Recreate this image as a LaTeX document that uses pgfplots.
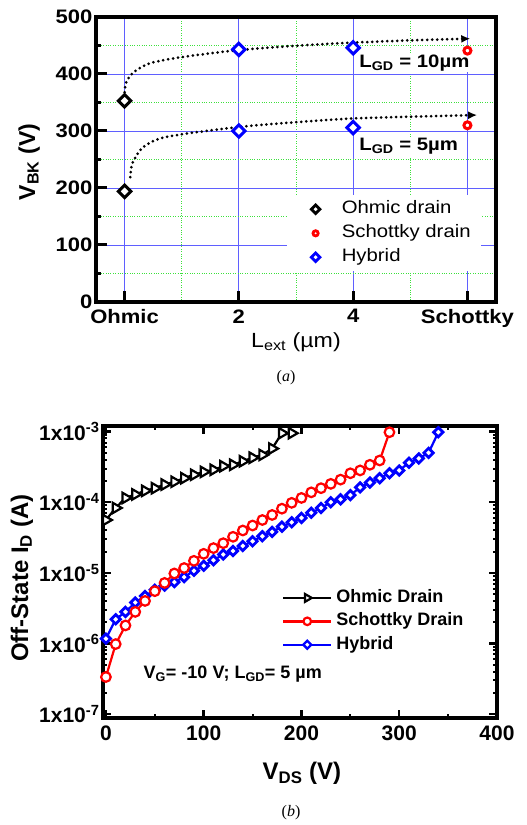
\documentclass[border=0pt]{standalone}
\usepackage{pgfplots}
\pgfplotsset{compat=1.18}
\usetikzlibrary{arrows.meta}
\usepackage{fontspec}
\setmainfont{Liberation Sans}
\newfontfamily\topfont{Liberation Sans}[FakeStretch=1.13]
\newfontfamily\capfont{Liberation Serif}
\definecolor{gridblue}{RGB}{95,95,255}
\definecolor{gridgreen}{RGB}{60,225,60}

\begin{document}
\begin{tikzpicture}
\useasboundingbox (0,0) rectangle (527pt,825pt);

% ---------- (a) breakdown voltage ----------
\begin{axis}[
  at={(96pt,523pt)}, anchor=south west,
  scale only axis, width=400pt, height=285pt,
  xmin=-0.5, xmax=6.5, ymin=0, ymax=500,
  xtick={0,2,4,6}, xticklabels={Ohmic,2,4,Schottky},
  minor xtick={1,3,5},
  ytick={0,100,...,500}, minor ytick={50,150,...,450},
  grid=both,
  major grid style={gridblue, line width=0.9pt},
  minor grid style={gridgreen, dotted, line width=0.9pt},
  axis line style={line width=3.5pt},
  tick align=inside, xtick pos=bottom, ytick pos=left,
  major tick length=11pt, minor tick length=5pt,
  major tick style={black, line width=3pt},
  minor tick style={black, line width=2.5pt},
  minor x tick style={draw=none},
  /pgf/number format/assume math mode=true,
  tick label style={font=\topfont\bfseries\fontsize{19.5}{21}\selectfont},
  xticklabel style={yshift=-4pt},
  xlabel={L\textsubscript{ext} (µm)},
  xlabel style={font=\topfont\fontsize{20.5}{22}\selectfont, at={(axis description cs:0.5,-0.161)}, anchor=base},
  ylabel={V\textsubscript{BK} (V)},
  ylabel style={font=\bfseries\fontsize{23}{25}\selectfont, at={(axis description cs:-0.1525,0.491)}, anchor=base, rotate=0},
  legend style={at={(0.478,0.375)}, anchor=north west, draw=none, fill=white,
    font=\topfont\fontsize{18}{20}\selectfont, column sep=10pt, inner xsep=8pt, inner ysep=2pt,
    nodes={inner ysep=3.5pt, text height=13pt, text depth=4pt}, row sep=0pt,
    cells={anchor=west}},
  legend cell align=left,
  legend image code/.code={\path (0pt,0pt) (34pt,0pt); \draw[#1] plot coordinates {(20pt,0pt)};},
]
% guide curves
\addplot[smooth, black, line width=3pt, line cap=round, dash pattern=on 0pt off 5pt,
  -{Latex[length=9pt,width=8pt]}, forget plot] coordinates {
  (0,368) (0.03,386) (0.16,403) (0.45,419) (1.03,430) (2,442) (3.08,450) (4,455) (5,459) (6.05,462)};
\addplot[smooth, black, line width=3pt, line cap=round, dash pattern=on 0pt off 5pt,
  -{Latex[length=9pt,width=8pt]}, forget plot] coordinates {
  (0.1,219) (0.14,244) (0.33,272) (0.75,290) (2,307) (3.08,316) (4,322) (5,325) (6.17,328)};
% data
\addplot[only marks, black, mark=square*, mark size=4.4pt,
  mark options={rotate=45, fill=white, line width=3pt, solid}, forget plot]
  coordinates {(0,353) (0,194)};
\addplot[only marks, red, mark=*, mark size=3.5pt,
  mark options={fill=white, line width=3pt, solid}, forget plot]
  coordinates {(6,441) (6,310)};
\addplot[only marks, blue, mark=square*, mark size=4.4pt,
  mark options={rotate=45, fill=white, line width=3pt, solid}, forget plot]
  coordinates {(2,443) (4,446) (2,300) (4,306)};
\addlegendimage{only marks, black, mark=square*, mark size=3pt, mark options={rotate=45, fill=white, line width=2.8pt}}
\addlegendentry{Ohmic drain}
\addlegendimage{only marks, red, mark=*, mark size=2.6pt, mark options={fill=white, line width=2.8pt}}
\addlegendentry{Schottky drain}
\addlegendimage{only marks, blue, mark=square*, mark size=3pt, mark options={rotate=45, fill=white, line width=2.8pt}}
\addlegendentry{Hybrid}
\node[anchor=base west, fill=white, inner sep=1pt, font=\topfont\bfseries\fontsize{18}{20}\selectfont]
  at (axis cs:4.09,412) {L\textsubscript{GD} = 10µm};
\node[anchor=base west, fill=white, inner sep=1pt, font=\topfont\bfseries\fontsize{18}{20}\selectfont]
  at (axis cs:4.09,265) {L\textsubscript{GD} = 5µm};
\end{axis}

% ---------- (b) off-state leakage ----------
\begin{axis}[
  at={(103pt,107pt)}, anchor=south west,
  scale only axis, width=394pt, height=292pt,
  ymode=log,
  xmin=-3, xmax=400, ymin=8.8e-8, ymax=1.2e-3,
  xtick={0,100,...,400}, minor xtick={50,150,250,350},
  ytick={1e-7,1e-6,1e-5,1e-4,1e-3},
  yticklabels={1x10\textsuperscript{-7},1x10\textsuperscript{-6},1x10\textsuperscript{-5},1x10\textsuperscript{-4},1x10\textsuperscript{-3}},
  minor ytick={2e-7,3e-7,4e-7,5e-7,6e-7,7e-7,8e-7,9e-7,
    2e-6,3e-6,4e-6,5e-6,6e-6,7e-6,8e-6,9e-6,
    2e-5,3e-5,4e-5,5e-5,6e-5,7e-5,8e-5,9e-5,
    2e-4,3e-4,4e-4,5e-4,6e-4,7e-4,8e-4,9e-4},
  axis line style={line width=3.5pt},
  tick align=inside,
  major tick length=8pt, minor tick length=4pt,
  major tick style={black, line width=2.5pt},
  minor tick style={black, line width=2pt},
  /pgf/number format/assume math mode=true,
  tick label style={font=\bfseries\fontsize{21}{23}\selectfont},
  xticklabel style={yshift=-4pt},
  xlabel={V\textsubscript{DS} (V)},
  xlabel style={font=\bfseries\fontsize{24}{26}\selectfont, at={(axis description cs:0.505,-0.212)}, anchor=base},
  ylabel={Off-State I\textsubscript{D} (A)},
  ylabel style={font=\bfseries\fontsize{24}{26}\selectfont, at={(axis description cs:-0.190,0.479)}, anchor=base, rotate=0},
  legend image code/.code={\draw[mark repeat=2,mark phase=2,#1] plot coordinates {(0pt,0pt) (24pt,0pt) (48pt,0pt)};},
  legend style={at={(0.454,0.452)}, anchor=north west, draw=none, fill=none,
    font=\bfseries\fontsize{18}{20}\selectfont, column sep=2pt, inner sep=0pt,
    nodes={inner ysep=3.2pt, text height=13pt, text depth=4pt}, row sep=0pt},
  legend cell align=left,
]
\addplot[black, line width=2.2pt, mark=triangle*, mark size=6pt,
  mark options={rotate=-90, fill=white, line width=2.2pt, solid}, forget plot] coordinates {
  (0,5.6e-5) (10,8.3e-5) (20,1.15e-4) (30,1.29e-4) (40,1.45e-4) (50,1.58e-4)
  (60,1.78e-4) (70,1.95e-4) (80,2.19e-4) (90,2.45e-4) (100,2.69e-4) (110,2.88e-4)
  (120,3.24e-4) (130,3.39e-4) (140,3.80e-4) (150,4.27e-4) (160,4.68e-4) (170,5.75e-4)
  (180,9.5e-4) (190,9.5e-4)};
\addplot[blue, line width=2.2pt, mark=square*, mark size=3.3pt,
  mark options={rotate=45, fill=white, line width=2.8pt, solid}, forget plot] coordinates {
  (0,1.17e-6) (10,2.2e-6) (20,2.8e-6) (30,3.8e-6) (40,4.7e-6) (50,5.75e-6)
  (60,6.6e-6) (70,7.4e-6) (80,8.7e-6) (90,1.07e-5) (100,1.26e-5) (110,1.51e-5)
  (120,1.82e-5) (130,2.04e-5) (140,2.4e-5) (150,2.8e-5) (160,3.3e-5) (170,3.8e-5)
  (180,4.5e-5) (190,5.2e-5) (200,6.0e-5) (210,7.1e-5) (220,8.3e-5) (230,1.0e-4)
  (240,1.1e-4) (250,1.26e-4) (260,1.62e-4) (270,1.9e-4) (280,2.19e-4) (290,2.57e-4)
  (300,2.82e-4) (310,3.63e-4) (320,4.17e-4) (330,5.0e-4) (340,9.8e-4)};
\addplot[red, line width=2.2pt, mark=*, mark size=4.8pt,
  mark options={fill=white, line width=2.2pt, solid}, forget plot] coordinates {
  (0,3.35e-7) (10,9.8e-7) (20,1.8e-6) (30,2.8e-6) (40,4.0e-6) (50,5.5e-6)
  (60,7.2e-6) (70,9.8e-6) (80,1.17e-5) (90,1.48e-5) (100,1.86e-5) (110,2.24e-5)
  (120,2.63e-5) (130,3.24e-5) (140,3.98e-5) (150,4.68e-5) (160,5.6e-5) (170,6.6e-5)
  (180,8.1e-5) (190,9.8e-5) (200,1.15e-4) (210,1.38e-4) (220,1.58e-4) (230,1.82e-4)
  (240,2.09e-4) (250,2.57e-4) (260,2.82e-4) (270,3.39e-4) (280,3.9e-4) (290,9.8e-4)};
\addlegendimage{black, line width=2.4pt, mark=triangle*, mark size=4.5pt, mark options={rotate=-90, fill=white, line width=2.2pt}}
\addlegendentry{Ohmic Drain}
\addlegendimage{red, line width=2.4pt, mark=*, mark size=3.8pt, mark options={fill=white, line width=2.2pt}}
\addlegendentry{Schottky Drain}
\addlegendimage{blue, line width=2.4pt, mark=square*, mark size=2.8pt, mark options={rotate=45, fill=white, line width=2.4pt}}
\addlegendentry{Hybrid}
\node[anchor=base west, font=\bfseries\fontsize{18}{20}\selectfont]
  at (axis cs:35,3.2e-7) {V\textsubscript{G}= -10 V; L\textsubscript{GD}= 5 µm};
\end{axis}

\node[font=\capfont\fontsize{16}{18}\selectfont] at (286pt,447pt) {(\textit{a})};
\node[font=\capfont\fontsize{16}{18}\selectfont] at (291pt,12pt) {(\textit{b})};
\end{tikzpicture}
\end{document}
